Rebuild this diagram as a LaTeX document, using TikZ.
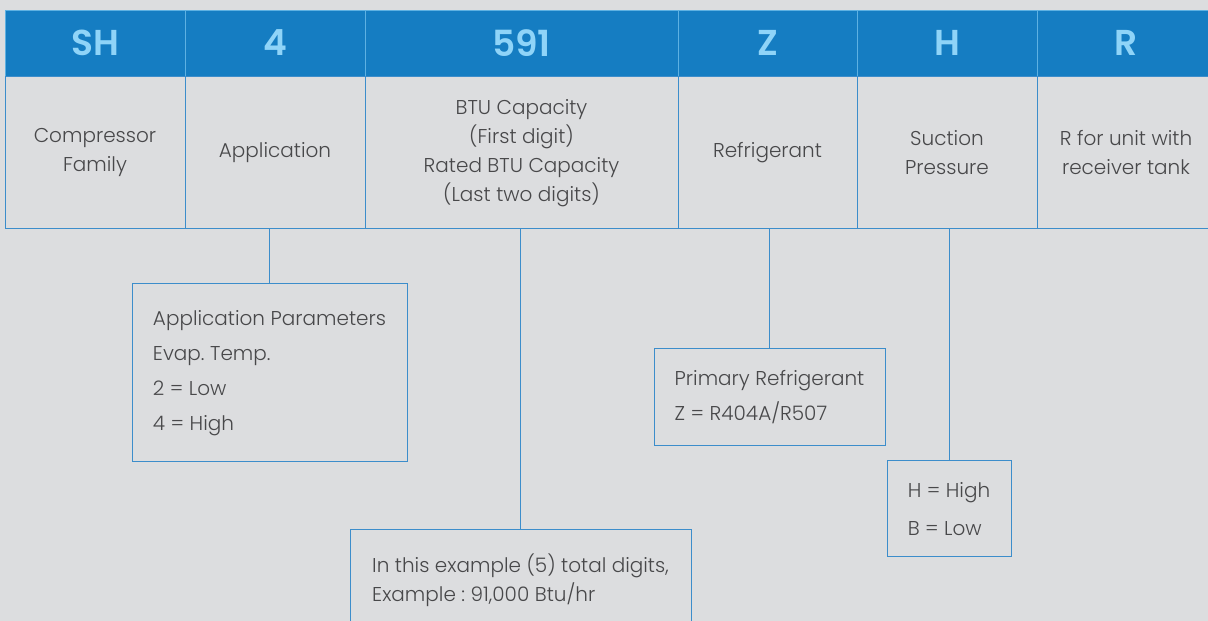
\documentclass[tikz,border=0pt]{standalone}
\usepackage{fontspec}
\setmainfont{Poppins Light}
\newfontfamily\hdrfont{Poppins SemiBold}
\usetikzlibrary{positioning}
\definecolor{bgray}{HTML}{DCDDDF}
\definecolor{hdrblue}{HTML}{157DC2}
\definecolor{hdrtext}{HTML}{8FD4F8}
\definecolor{rule}{HTML}{3C8DCB}
\definecolor{ink}{HTML}{48484A}
\frenchspacing
\begin{document}
\begin{tikzpicture}[x=1pt,y=1pt,font=\fontsize{20}{29}\selectfont,text=ink,
hdr/.style={fill=hdrblue,draw=hdrtext!60!hdrblue,line width=0.8pt,minimum height=66pt,inner sep=0pt,font=\hdrfont\fontsize{36}{36}\selectfont,text=hdrtext},
cell/.style={draw=rule,line width=1pt,minimum height=152pt,inner sep=0pt,align=center},
note/.style={draw=rule,line width=1pt,align=left,inner sep=0pt},
link/.style={draw=rule,line width=1pt}]
\fill[bgray] (0,0) rectangle (1208,621);
\useasboundingbox (0,0) rectangle (1208,621);
% code letters
\node[hdr,minimum width=180pt] (h1) at (95,578) {SH};
\node[hdr,minimum width=180pt] (h2) at (275,578) {4};
\node[hdr,minimum width=313pt] (h3) at (521.5,578) {591};
\node[hdr,minimum width=179pt] (h4) at (767.5,578) {Z};
\node[hdr,minimum width=180pt] (h5) at (947,578) {H};
\node[hdr,minimum width=178pt] (h6) at (1126,578) {R};
% meanings
\node[cell,minimum width=180pt,below=0pt of h1] (d1) {Compressor\\Family};
\node[cell,minimum width=180pt,below=0pt of h2] (d2) {Application};
\node[cell,minimum width=313pt,below=0pt of h3] (d3) {BTU Capacity\\(First digit)\\Rated BTU Capacity\\(Last two digits)};
\node[cell,minimum width=179pt,below=0pt of h4] (d4) {Refrigerant};
\node[cell,minimum width=180pt,below=0pt of h5] (d5) {Suction\\Pressure};
\node[cell,minimum width=178pt,below=0pt of h6] (d6) {R for unit with\\receiver tank};
% details
\node[note,minimum width=275pt,minimum height=178pt,font=\fontsize{20}{35}\selectfont] (app) at (269.5,248) {Application Parameters\\Evap. Temp.\\2 = Low\\4 = High};
\node[note,minimum width=341pt,minimum height=101pt] (btu) at (520.5,40.5) {In this example (5) total digits,\\Example : 91,000 Btu/hr};
\node[note,minimum width=231pt,minimum height=97pt,font=\fontsize{20}{35}\selectfont] (ref) at (769.5,223.5) {Primary Refrigerant\\Z = R404A/R507};
\node[note,minimum width=124pt,minimum height=96pt,font=\fontsize{20}{38}\selectfont] (suc) at (949,112) {H = High\\B = Low};
\draw[link] (app.north) -- (app.north |- d2.south);
\draw[link] (btu.north) -- (btu.north |- d3.south);
\draw[link] (ref.north) -- (ref.north |- d4.south);
\draw[link] (suc.north) -- (suc.north |- d5.south);
\end{tikzpicture}
\end{document}
